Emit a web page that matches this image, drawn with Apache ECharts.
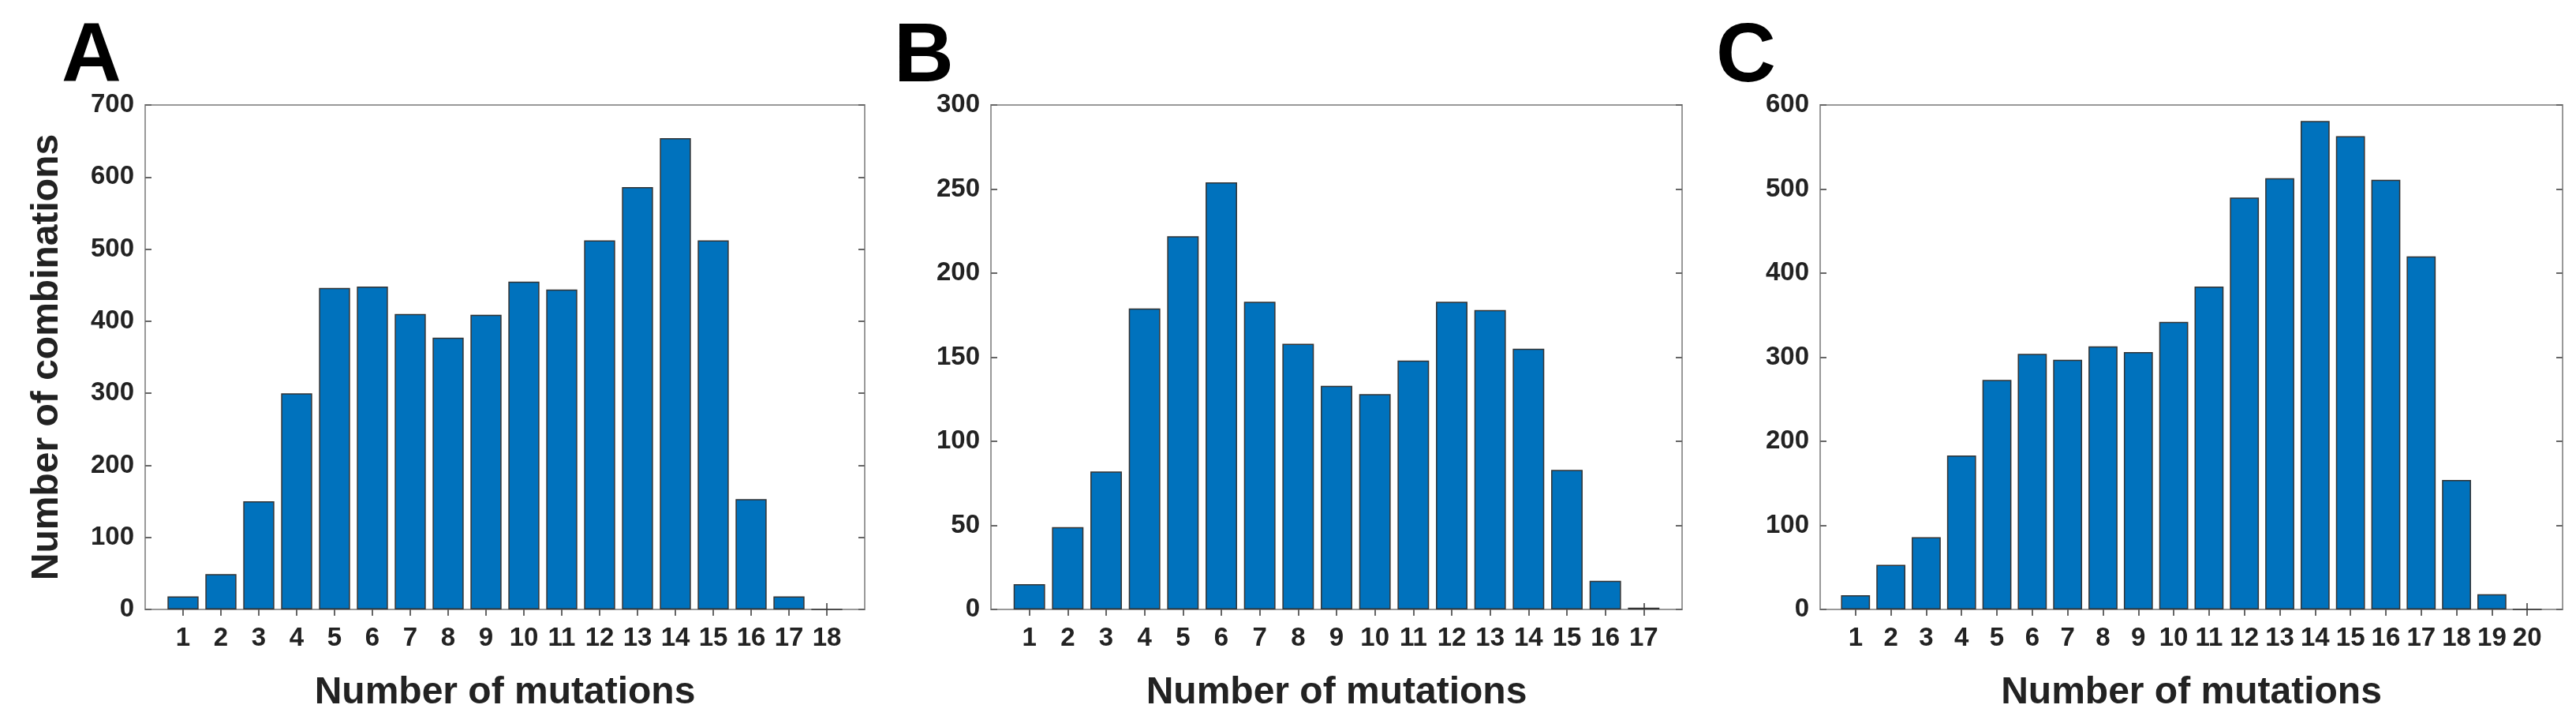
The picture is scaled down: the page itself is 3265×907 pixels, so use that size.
<!DOCTYPE html>
<html>
<head>
<meta charset="utf-8">
<script src="https://cdn.jsdelivr.net/npm/echarts@6/dist/echarts.min.js"></script>
<style>html,body{margin:0;background:#fff}#main{width:3265px;height:907px}</style>
</head>
<body>
<div id="main"></div>
<script>
var valuesA = [18, 49, 150, 300, 446, 448, 410, 377, 409, 455, 444, 512, 586, 654, 512, 153, 18, 0];
var valuesB = [15, 49, 82, 179, 222, 254, 183, 158, 133, 128, 148, 183, 178, 155, 83, 17, 1];
var valuesC = [17, 53, 86, 183, 273, 304, 297, 313, 306, 342, 384, 490, 513, 581, 563, 511, 420, 154, 18, 0];
var yMaxA = 700, yStepA = 100;
var yMaxB = 300, yStepB = 50;
var yMaxC = 600, yStepC = 100;
var letters = ['A', 'B', 'C'];

var font = 'Liberation Sans';
var panels = [
  {vals: valuesA, max: yMaxA, step: yStepA, left: 184, right: 3265 - 1096, lx: 78},
  {vals: valuesB, max: yMaxB, step: yStepB, left: 1256, right: 3265 - 2132, lx: 1133},
  {vals: valuesC, max: yMaxC, step: yStepC, left: 2307, right: 3265 - 3248, lx: 2175}
];

var grid = [], xAxis = [], yAxis = [], series = [], graphic = [];
panels.forEach(function (p, i) {
  var cats = [];
  for (var k = 0; k <= p.vals.length + 1; k++) cats.push(String(k));
  grid.push({left: p.left, right: p.right, top: 133, bottom: 907 - 774,
    show: true, borderColor: '#999', borderWidth: 2});
  var tickShow = function (idx) { return idx >= 1 && idx <= p.vals.length; };
  xAxis.push({type: 'category', gridIndex: i, data: cats, boundaryGap: false,
    axisLine: {lineStyle: {color: '#999', width: 2}},
    axisTick: {inside: true, length: 8, interval: function (idx) { return tickShow(idx); }, lineStyle: {color: '#666', width: 2}},
    axisLabel: {interval: function (idx) { return tickShow(idx); }, color: '#222', fontFamily: font,
      fontWeight: 'bold', fontSize: 33, margin: 20},
    name: 'Number of mutations', nameLocation: 'middle', nameGap: 82,
    nameTextStyle: {color: '#222', fontFamily: font, fontWeight: 'bold', fontSize: 48}});
  xAxis.push({type: 'category', gridIndex: i, data: cats, boundaryGap: false, position: 'top',
    axisLine: {show: false}, axisLabel: {show: false},
    axisTick: {inside: true, length: 8, interval: function (idx) { return tickShow(idx); }, lineStyle: {color: '#666', width: 2}}});
  yAxis.push({type: 'value', gridIndex: i, min: 0, max: p.max, interval: p.step,
    splitLine: {show: false},
    axisLine: {show: true, lineStyle: {color: '#999', width: 2}},
    axisTick: {show: true, inside: true, length: 8, lineStyle: {color: '#666', width: 2}},
    axisLabel: {color: '#222', fontFamily: font, fontWeight: 'bold', fontSize: 33, margin: 14},
    name: i === 0 ? 'Number of combinations' : '', nameLocation: 'middle', nameGap: 100,
    nameTextStyle: {color: '#222', fontFamily: font, fontWeight: 'bold', fontSize: 48}});
  yAxis.push({type: 'value', gridIndex: i, min: 0, max: p.max, interval: p.step, position: 'right',
    splitLine: {show: false}, axisLine: {show: false}, axisLabel: {show: false},
    axisTick: {show: true, inside: true, length: 8, lineStyle: {color: '#666', width: 2}}});
  var data = [null].concat(p.vals).concat([null]);
  series.push({type: 'bar', xAxisIndex: i * 2, yAxisIndex: i * 2, data: data,
    barCategoryGap: '18%', silent: true,
    itemStyle: {color: '#0072BD', borderColor: '#333', borderWidth: 1.5}});
  graphic.push({type: 'text', left: p.lx, top: 22,
    style: {text: letters[i], fill: '#000', font: 'bold 105px "' + font + '"'}});
});

var chart = echarts.init(document.getElementById('main'));
chart.setOption({animation: false, grid: grid, xAxis: xAxis, yAxis: yAxis, series: series, graphic: graphic});
</script>
</body>
</html>
